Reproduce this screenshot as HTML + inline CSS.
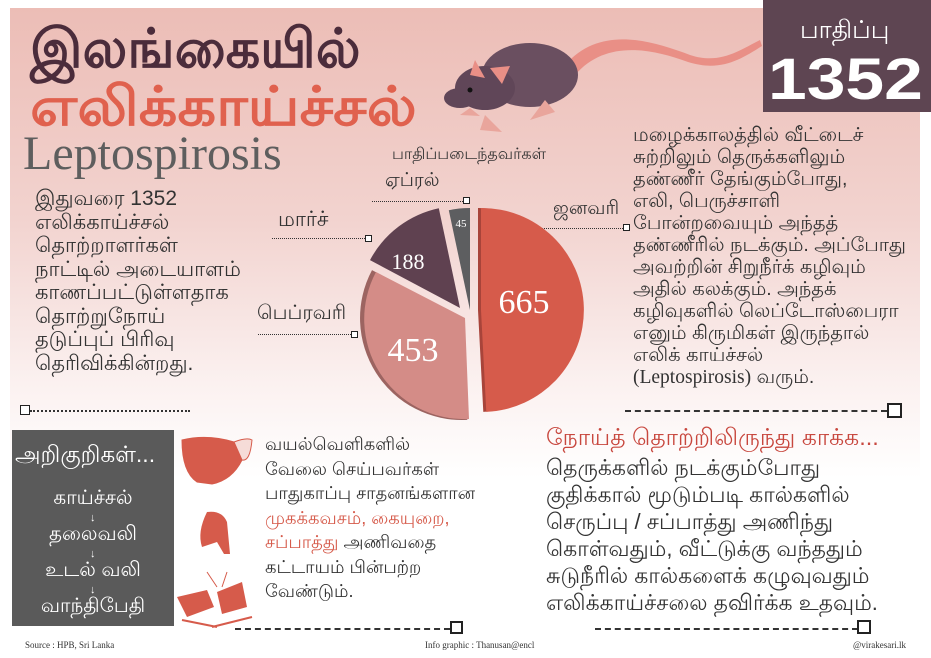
<!DOCTYPE html>
<html><head><meta charset="utf-8">
<style>
*{margin:0;padding:0;box-sizing:border-box}
body{width:931px;height:658px;background:#fff;position:relative;overflow:hidden;font-family:"Liberation Sans","DejaVu Sans",sans-serif;color:#333}
.a{position:absolute;white-space:nowrap}
#bg{position:absolute;left:10px;top:8px;width:910px;height:470px;background:linear-gradient(180deg,#ecbdb6 0%,#f2d3cf 45%,#fbf1f0 80%,#fff 100%)}
.dash{position:absolute;height:0;border-top:2px dashed #333}
.dot{position:absolute;height:0;border-top:1px dotted #333}
.sq{position:absolute;border:2px solid #222;background:#fff}
</style></head><body>
<div id="bg"></div>
<div class="a" style="left:30px;top:18px;font-size:54px;font-weight:bold;color:#4b2c3b">இலங்கையில்</div>
<div class="a" style="left:30px;top:76px;font-size:54px;font-weight:bold;color:#e0614e;transform:scaleX(1.12);transform-origin:left">எலிக்காய்ச்சல்</div>
<div class="a" style="left:23px;top:126px;font-size:48px;font-family:'Liberation Serif',serif;color:#5e5e5e">Leptospirosis</div>
<svg class="a" style="left:430px;top:20px" width="340" height="120" viewBox="0 0 340 120">
<path d="M135 45 C170 5 220 20 260 35 C290 45 310 30 330 20 L332 26 C310 40 290 52 258 42 C220 28 175 20 145 55Z" fill="#e98f86"/>
<ellipse cx="100" cy="55" rx="48" ry="32" fill="#6a4f60"/>
<ellipse cx="55" cy="68" rx="30" ry="22" fill="#604658"/>
<ellipse cx="30" cy="78" rx="16" ry="10" fill="#604658"/>
<path d="M45 40 L55 58 L40 55Z" fill="#e98f86"/>
<path d="M60 48 L80 46 L72 64Z" fill="#e98f86"/>
<circle cx="40" cy="70" r="2.5" fill="#111"/>
<path d="M55 95 L50 110 L72 112Z" fill="#e9a59c"/>
<path d="M115 80 L125 92 L100 100Z" fill="#e9a59c"/>
<path d="M40 88 L30 95 L50 96Z" fill="#e9a59c"/>
</svg>
<div class="a" style="left:763px;top:0;width:168px;height:112px;background:#5e4552"></div>
<div class="a" style="left:800px;top:16px;font-size:25px;color:#fff">பாதிப்பு</div>
<div class="a" style="left:768px;top:46px;font-size:58px;font-weight:bold;color:#fff;transform:scaleX(1.2);transform-origin:left">1352</div>
<div class="a" style="left:35px;top:187px;font-size:21px;line-height:23.5px">இதுவரை 1352<br>எலிக்காய்ச்சல்<br>தொற்றாளர்கள்<br>நாட்டில் அடையாளம்<br>காணப்பட்டுள்ளதாக<br>தொற்றுநோய்<br>தடுப்புப் பிரிவு<br>தெரிவிக்கின்றது.</div>
<div class="sq" style="left:20px;top:405px;width:10px;height:10px;border-width:1.5px"></div>
<div class="dot" style="left:30px;top:410px;width:160px;border-top:2px dotted #333"></div>
<div class="a" style="left:392px;top:145px;font-size:16px">பாதிப்படைந்தவர்கள்</div>
<div class="a" style="left:385px;top:170px;font-size:19px">ஏப்ரல்</div>
<div class="dot" style="left:372px;top:201px;width:91px"></div>
<div class="sq" style="left:463px;top:197px;width:7px;height:7px;border-width:1px"></div>
<div class="a" style="left:278px;top:208px;font-size:21px">மார்ச்</div>
<div class="dot" style="left:272px;top:238px;width:93px"></div>
<div class="sq" style="left:365px;top:235px;width:7px;height:7px;border-width:1px"></div>
<div class="a" style="left:257px;top:302px;font-size:20px">பெப்ரவரி</div>
<div class="dot" style="left:258px;top:334px;width:93px"></div>
<div class="sq" style="left:351px;top:331px;width:7px;height:7px;border-width:1px"></div>
<div class="a" style="left:553px;top:198px;font-size:19px">ஜனவரி</div>
<div class="dot" style="left:520px;top:228px;width:103px"></div>
<div class="sq" style="left:623px;top:224px;width:7px;height:7px;border-width:1px"></div>
<svg class="a" style="left:0;top:0" width="931" height="658">
<g transform="translate(478,310)">
<path d="M0 0 L0 -102 A102 102 0 0 1 5.3 101.9Z" fill="#a8443a"/>
<path d="M3 0 L3 -102 A102 102 0 0 1 8.3 101.9Z" fill="#d65b4b"/>
</g>
<g transform="translate(462,318)">
<path d="M0 0 L5.3 101.9 A102 102 0 0 1 -90 -47.9Z" fill="#9c6461"/>
<path d="M3 0 L7 101 A100 100 0 0 1 -86 -46Z" fill="#d48c87"/>
</g>
<g transform="translate(460,308)">
<path d="M0 0 L-90 -47.9 A102 102 0 0 1 -21.2 -99.8Z" fill="#5f4150"/>
</g>
<g transform="translate(470,310)">
<path d="M0 0 L-21.2 -99.8 A102 102 0 0 1 0 -102Z" fill="#5d5e60"/>
</g>
<g font-family="Liberation Serif,serif" fill="#fff">
<text x="524" y="313" font-size="34" text-anchor="middle">665</text>
<text x="413" y="361" font-size="34" text-anchor="middle">453</text>
<text x="408" y="269" font-size="22" text-anchor="middle">188</text>
<text x="461" y="227" font-size="11" text-anchor="middle">45</text>
</g>
</svg>
<div class="a" style="left:633px;top:124px;font-size:19.5px;line-height:22px">மழைக்காலத்தில் வீட்டைச்<br>சுற்றிலும் தெருக்களிலும்<br>தண்ணீர் தேங்கும்போது,<br>எலி, பெருச்சாளி<br>போன்றவையும் அந்தத்<br>தண்ணீரில் நடக்கும். அப்போது<br>அவற்றின் சிறுநீர்க் கழிவும்<br>அதில் கலக்கும். அந்தக்<br>கழிவுகளில் லெப்டோஸ்பைரா<br>எனும் கிருமிகள் இருந்தால்<br>எலிக் காய்ச்சல்<br><span style="font-family:'Liberation Serif',serif">(Leptospirosis)</span> வரும்.</div>
<div class="dash" style="left:625px;top:410px;width:262px"></div>
<div class="sq" style="left:887px;top:403px;width:15px;height:15px"></div>
<div class="a" style="left:12px;top:430px;width:162px;height:196px;background:#5a5a5a"></div>
<div class="a" style="left:15px;top:441px;font-size:23px;color:#fff">அறிகுறிகள்...</div>
<div class="a" style="left:12px;top:480px;width:162px;text-align:center;font-size:20px;color:#fff;line-height:36px">காய்ச்சல்<br>தலைவலி<br>உடல் வலி<br>வாந்திபேதி</div>
<div class="a" style="left:90px;top:500px;color:#fff;font-size:11px;line-height:36px">↓<br>↓<br>↓</div>
<svg class="a" style="left:172px;top:432px" width="90" height="210">
<path d="M10 8 Q35 2 62 10 L70 28 Q60 48 40 52 L25 50 Q10 40 10 8Z" fill="#d65b4b" stroke="#d65b4b"/>
<path d="M62 10 Q75 5 80 8 Q78 30 70 28Z" fill="#f6dcd8" stroke="#d65b4b"/>
<path d="M35 80 Q50 78 55 90 L58 122 L52 122 L45 110 L30 115 Q25 100 35 80Z" fill="#d65b4b"/>
<path d="M5 165 L35 158 L42 175 L15 185Z M45 160 L70 150 L75 175 L50 182Z" fill="#d65b4b"/>
<path d="M10 188 L45 195 M40 195 L80 185" stroke="#d65b4b" stroke-width="2"/>
<path d="M35 140 L45 155 M55 140 L50 155" stroke="#d65b4b" stroke-width="1"/>
</svg>
<div class="a" style="left:265px;top:432px;font-size:18px;line-height:24.5px">வயல்வெளிகளில்<br>வேலை செய்பவர்கள்<br>பாதுகாப்பு சாதனங்களான<br><span style="color:#d65b4b">முகக்கவசம், கையுறை,</span><br><span style="color:#d65b4b">சப்பாத்து</span> அணிவதை<br>கட்டாயம் பின்பற்ற<br>வேண்டும்.</div>
<div class="dash" style="left:235px;top:628px;width:215px"></div>
<div class="sq" style="left:450px;top:621px;width:13px;height:13px"></div>
<div class="a" style="left:546px;top:424px;font-size:23.5px;color:#c8473e">நோய்த் தொற்றிலிருந்து காக்க...</div>
<div class="a" style="left:546px;top:454px;font-size:22px;line-height:27px">தெருக்களில் நடக்கும்போது<br>குதிக்கால் மூடும்படி கால்களில்<br>செருப்பு / சப்பாத்து அணிந்து<br>கொள்வதும், வீட்டுக்கு வந்ததும்<br>சுடுநீரில் கால்களைக் கழுவுவதும்<br>எலிக்காய்ச்சலை தவிர்க்க உதவும்.</div>
<div class="dash" style="left:595px;top:628px;width:263px"></div>
<div class="sq" style="left:857px;top:620px;width:14px;height:14px"></div>
<div class="a" style="left:25px;top:640px;font-size:9px;font-family:'Liberation Serif',serif">Source : HPB, Sri Lanka</div>
<div class="a" style="left:425px;top:640px;font-size:9px;font-family:'Liberation Serif',serif">Info graphic : Thanusan@encl</div>
<div class="a" style="left:853px;top:640px;font-size:9px;font-family:'Liberation Serif',serif">@virakesari.lk</div>
</body></html>
